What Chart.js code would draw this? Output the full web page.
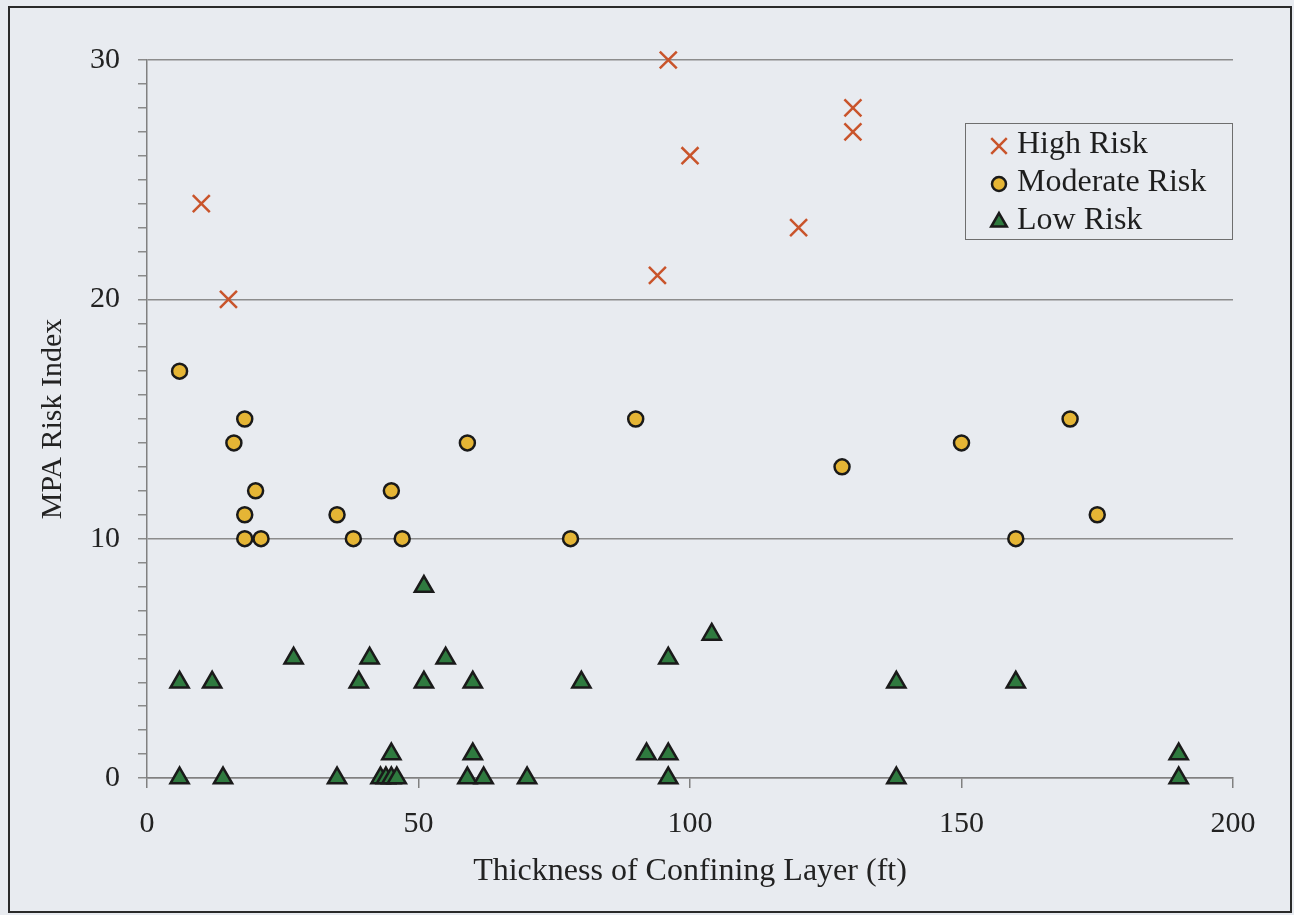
<!DOCTYPE html>
<html>
<head>
<meta charset="utf-8">
<script src="https://cdn.jsdelivr.net/npm/chart.js@4.4.0/dist/chart.umd.min.js"></script>
<style>
  body { margin: 0; background: #e9ecf1; }
  #wrap { width: 1294px; height: 915px; position: relative; }
</style>
</head>
<body>
<div id="wrap"><canvas id="riskChart"></canvas></div>
<script>
// High risk wells
const highX = [10, 15, 96, 100, 94, 120, 130, 130];
const highY = [24, 20, 30, 26, 21, 23, 28, 27];

// Moderate risk wells
const modX = [6, 18, 16, 20, 18, 18, 21, 35, 38, 45, 47, 59, 90, 78, 128, 150, 170, 175, 160];
const modY = [17, 15, 14, 12, 11, 10, 10, 11, 10, 12, 10, 14, 15, 10, 13, 14, 15, 11, 10];

// Low risk wells
const lowX = [6, 12, 6, 14, 27, 35, 39, 41, 45, 43, 44, 45, 46, 51, 51, 55, 60, 60, 59, 62, 70, 80, 96, 104, 92, 96, 96, 138, 138, 160, 190, 190];
const lowY = [4, 4, 0, 0, 5, 0, 4, 5, 1, 0, 0, 0, 0, 8, 4, 5, 4, 1, 0, 0, 0, 4, 5, 6, 1, 1, 0, 4, 0, 4, 1, 0];

const seriesNames = ["High Risk", "Moderate Risk", "Low Risk"];
const xTicks = [0, 50, 100, 150, 200];
const yMajor = [0, 10, 20, 30];

function toPoints(xs, ys) {
  return xs.map((x, i) => ({ x: x, y: ys[i] }));
}

Chart.defaults.font.family = '"Liberation Serif", "Times New Roman", serif';

// background + outer frame
const frame = {
  id: "frame",
  beforeDraw(chart) {
    const c = chart.ctx;
    c.save();
    c.fillStyle = "#e8ebf0";
    c.fillRect(0, 0, chart.width, chart.height);
    c.strokeStyle = "#2a2a2a";
    c.lineWidth = 2;
    c.strokeRect(9, 7, chart.width - 12, chart.height - 10);
    c.restore();
  },
};

// legend box inside the plot, top right
const boxLegend = {
  id: "boxLegend",
  afterDraw(chart) {
    const c = chart.ctx;
    const area = chart.chartArea;
    const bx = area.right - 268;
    const by = area.top + 63;
    const bw = 267;
    const bh = 116;
    c.save();
    c.strokeStyle = "#6e6e6e";
    c.lineWidth = 1;
    c.strokeRect(bx + 0.5, by + 0.5, bw, bh);

    const sizes = [11, 7, 9];
    chart.data.datasets.forEach((ds, i) => {
      const py = by + 22 + i * 38;
      const px = bx + 34;
      c.fillStyle = ds.backgroundColor;
      c.strokeStyle = ds.borderColor;
      c.lineWidth = ds.pointBorderWidth;
      Chart.helpers.drawPoint(c, {
        pointStyle: ds.pointStyle,
        radius: sizes[i],
        borderWidth: ds.pointBorderWidth,
        rotation: 0,
      }, px, py + 1);
      c.fillStyle = "#1e1e1e";
      c.font = '32px "Liberation Serif"';
      c.textBaseline = "middle";
      c.textAlign = "left";
      c.fillText(ds.label, bx + 52, py);
    });
    c.restore();
  },
};

const ctx = document.getElementById("riskChart").getContext("2d");

const riskChart = new Chart(ctx, {
  type: "scatter",
  data: {
    datasets: [
      {
        label: seriesNames[0],
        data: toPoints(highX, highY),
        pointStyle: "crossRot",
        pointRadius: 12,
        pointBorderWidth: 2.5,
        backgroundColor: "#c9542b",
        borderColor: "#c9542b",
        clip: false,
      },
      {
        label: seriesNames[1],
        data: toPoints(modX, modY),
        pointStyle: "circle",
        pointRadius: 7.5,
        pointBorderWidth: 2.5,
        backgroundColor: "#e5b535",
        borderColor: "#1a1a1a",
        clip: false,
      },
      {
        label: seriesNames[2],
        data: toPoints(lowX, lowY),
        pointStyle: "triangle",
        pointRadius: 10.5,
        pointBorderWidth: 2.5,
        backgroundColor: "#2f7a3f",
        borderColor: "#1a1a1a",
        clip: false,
      },
    ],
  },
  options: {
    responsive: true,
    maintainAspectRatio: false,
    animation: false,
    layout: { padding: { left: 35, right: 61, top: 60, bottom: 24 } },
    plugins: {
      legend: { display: false },
      tooltip: { enabled: false },
    },
    scales: {
      x: {
        type: "linear",
        min: xTicks[0],
        max: xTicks[xTicks.length - 1],
        afterBuildTicks: (scale) => {
          scale.ticks = xTicks.map((v) => ({ value: v }));
        },
        ticks: { color: "#222", font: { size: 30 }, padding: 18 },
        grid: { drawOnChartArea: false, tickLength: 10, tickColor: "#808080", lineWidth: 1.5 },
        border: { color: "#808080", width: 1.5 },
        title: {
          display: true,
          text: "Thickness of Confining Layer (ft)",
          color: "#222",
          font: { size: 32 },
          padding: 0,
        },
        afterFit: (scale) => {
          scale.height = 113;
        },
      },
      y: {
        min: yMajor[0],
        max: yMajor[yMajor.length - 1],
        ticks: {
          stepSize: 1,
          autoSkip: false,
          color: "#222",
          font: { size: 30 },
          padding: 18,
          callback: (v) => (yMajor.includes(v) ? v : ""),
        },
        grid: {
          color: (c) => (c.tick && yMajor.includes(c.tick.value) ? "#8c8c8c" : "rgba(0,0,0,0)"),
          tickColor: "#8a8a8a",
          tickLength: 9,
          lineWidth: 1.5,
        },
        border: { color: "#808080", width: 1.5 },
        title: {
          display: true,
          text: "MPA Risk Index",
          color: "#222",
          font: { size: 30 },
          padding: 0,
        },
        afterFit: (scale) => {
          scale.width = 112;
        },
      },
    },
  },
  plugins: [frame, boxLegend],
});
</script>
</body>
</html>
